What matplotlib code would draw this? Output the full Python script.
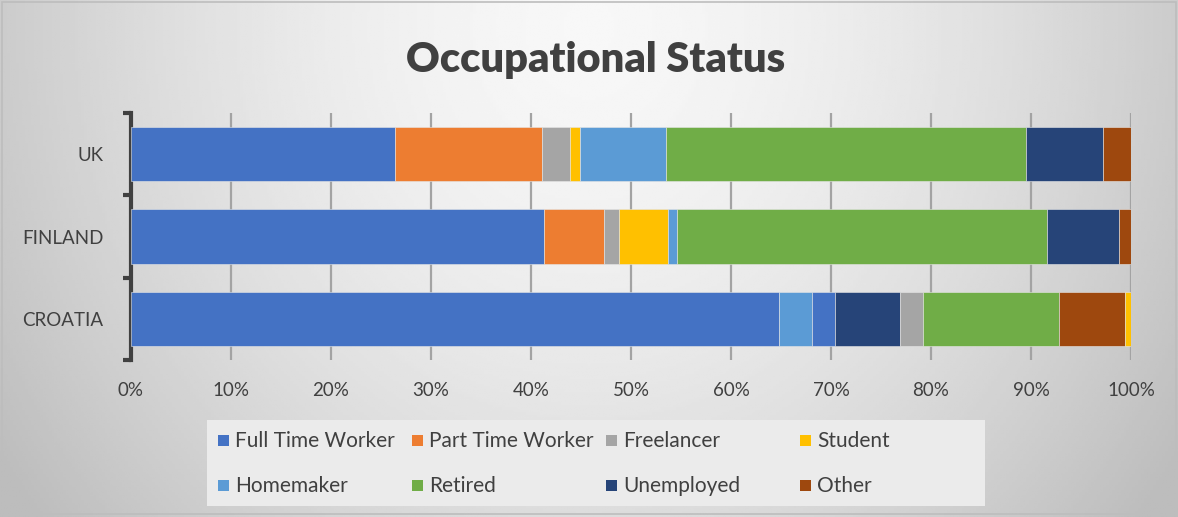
import numpy as np
import matplotlib
matplotlib.use("Agg")
import matplotlib.pyplot as plt
from matplotlib.patches import Rectangle

plt.rcParams["font.family"] = ["Lato", "DejaVu Sans"]

countries = ["UK", "FINLAND", "CROATIA"]
series_names = ["Full Time Worker", "Part Time Worker", "Freelancer", "Student",
                "Homemaker", "Retired", "Unemployed", "Other"]

# percent shares, order: UK, FINLAND, CROATIA
full_time = [26.4, 41.3, 64.8]
part_time = [14.7, 6.0, 3.3]
freelancer = [2.8, 1.5, 2.3]
student = [1.0, 4.9, 6.5]
homemaker = [8.6, 0.9, 2.3]
retired = [36.0, 37.0, 13.6]
unemployed = [7.7, 7.2, 6.6]
other = [2.8, 1.2, 0.6]

series_values = [full_time, part_time, freelancer, student,
                 homemaker, retired, unemployed, other]
series_colors = ["#4472C4", "#ED7D31", "#A5A5A5", "#FFC000",
                 "#5B9BD5", "#70AD47", "#264478", "#9E480E"]
# the Croatia bar has its points recoloured in the original chart
croatia_colors = ["#4472C4", "#5B9BD5", "#4472C4", "#264478",
                  "#A5A5A5", "#70AD47", "#9E480E", "#FFC000"]

W, H = 1178, 517
fig = plt.figure(figsize=(W / 100, H / 100), dpi=100)

# background gradient
bg = fig.add_axes([0, 0, 1, 1], zorder=-10)
gx, gy = np.meshgrid(np.linspace(0, 1, 400), np.linspace(0, 1, 200))
r = np.sqrt(((gx - 0.5) / 0.55) ** 2 + ((gy - 0.05) / 1.4) ** 2)
shade = np.clip(0.97 - 0.2 * r ** 1.6, 0.74, 0.97)
bg.imshow(shade, cmap="gray", vmin=0, vmax=1, extent=[0, 1, 1, 0], aspect="auto")
bg.set_xlim(0, 1)
bg.set_ylim(1, 0)
bg.axis("off")
bg.add_patch(Rectangle((0.002, 0.004), 0.996, 0.99, fill=False,
                       edgecolor="#bdbdbd", lw=1.2))

ax = fig.add_axes([131 / W, 157 / H, 1000 / W, 247 / H])
ax.patch.set_alpha(0)

ypos = [2, 1, 0]
left = np.zeros(len(countries))
for i, (vals, name) in enumerate(zip(series_values, series_names)):
    cols = [series_colors[i], series_colors[i], croatia_colors[i]]
    ax.barh(ypos, vals, left=left, height=0.66, color=cols,
            edgecolor="#e6e6e6", linewidth=0.4, label=name, zorder=3)
    left += np.array(vals)

ax.set_xlim(0, 100)
ax.set_ylim(-0.5, 2.5)
ax.set_xticks(range(0, 101, 10))
ax.set_xticklabels([f"{v}%" for v in range(0, 101, 10)])
ax.grid(axis="x", color="#a3a3a3", linewidth=1.6)
ax.set_axisbelow(True)
ax.tick_params(axis="x", length=0, pad=16, labelsize=13.5, labelcolor="#404040")

ax.set_yticks([-0.5, 0.5, 1.5, 2.5])
ax.set_yticklabels([])
ax.set_yticks(ypos, minor=True)
ax.set_yticklabels(countries, minor=True)
ax.tick_params(axis="y", which="major", length=6, width=3, color="#404040")
ax.tick_params(axis="y", which="minor", length=0, pad=20, labelsize=13.5,
               labelcolor="#404040")

for s in ["top", "right", "bottom"]:
    ax.spines[s].set_visible(False)
ax.spines["left"].set_linewidth(3)
ax.spines["left"].set_color("#404040")

fig.text(596 / W, 1 - 72 / H, "Occupational Status", ha="center", va="baseline",
         fontsize=30, fontweight="heavy", color="#404040")

# legend box, Excel style with equal column widths
bg.add_patch(Rectangle((207 / W, 420 / H), 778 / W, 86 / H,
                       facecolor="#ebebeb", edgecolor="none", zorder=1))
col_x = [218, 412, 606, 800]
row_y = [441, 486]
for i, name in enumerate(series_names):
    cx = col_x[i % 4]
    cy = row_y[i // 4]
    bg.add_patch(Rectangle((cx / W, (cy - 6) / H), 11 / W, 11 / H,
                           facecolor=series_colors[i], edgecolor="none", zorder=2))
    bg.text((cx + 17) / W, cy / H, name, ha="left", va="center",
            fontsize=15, color="#404040", zorder=2)

fig.savefig("out.png", dpi=100)
